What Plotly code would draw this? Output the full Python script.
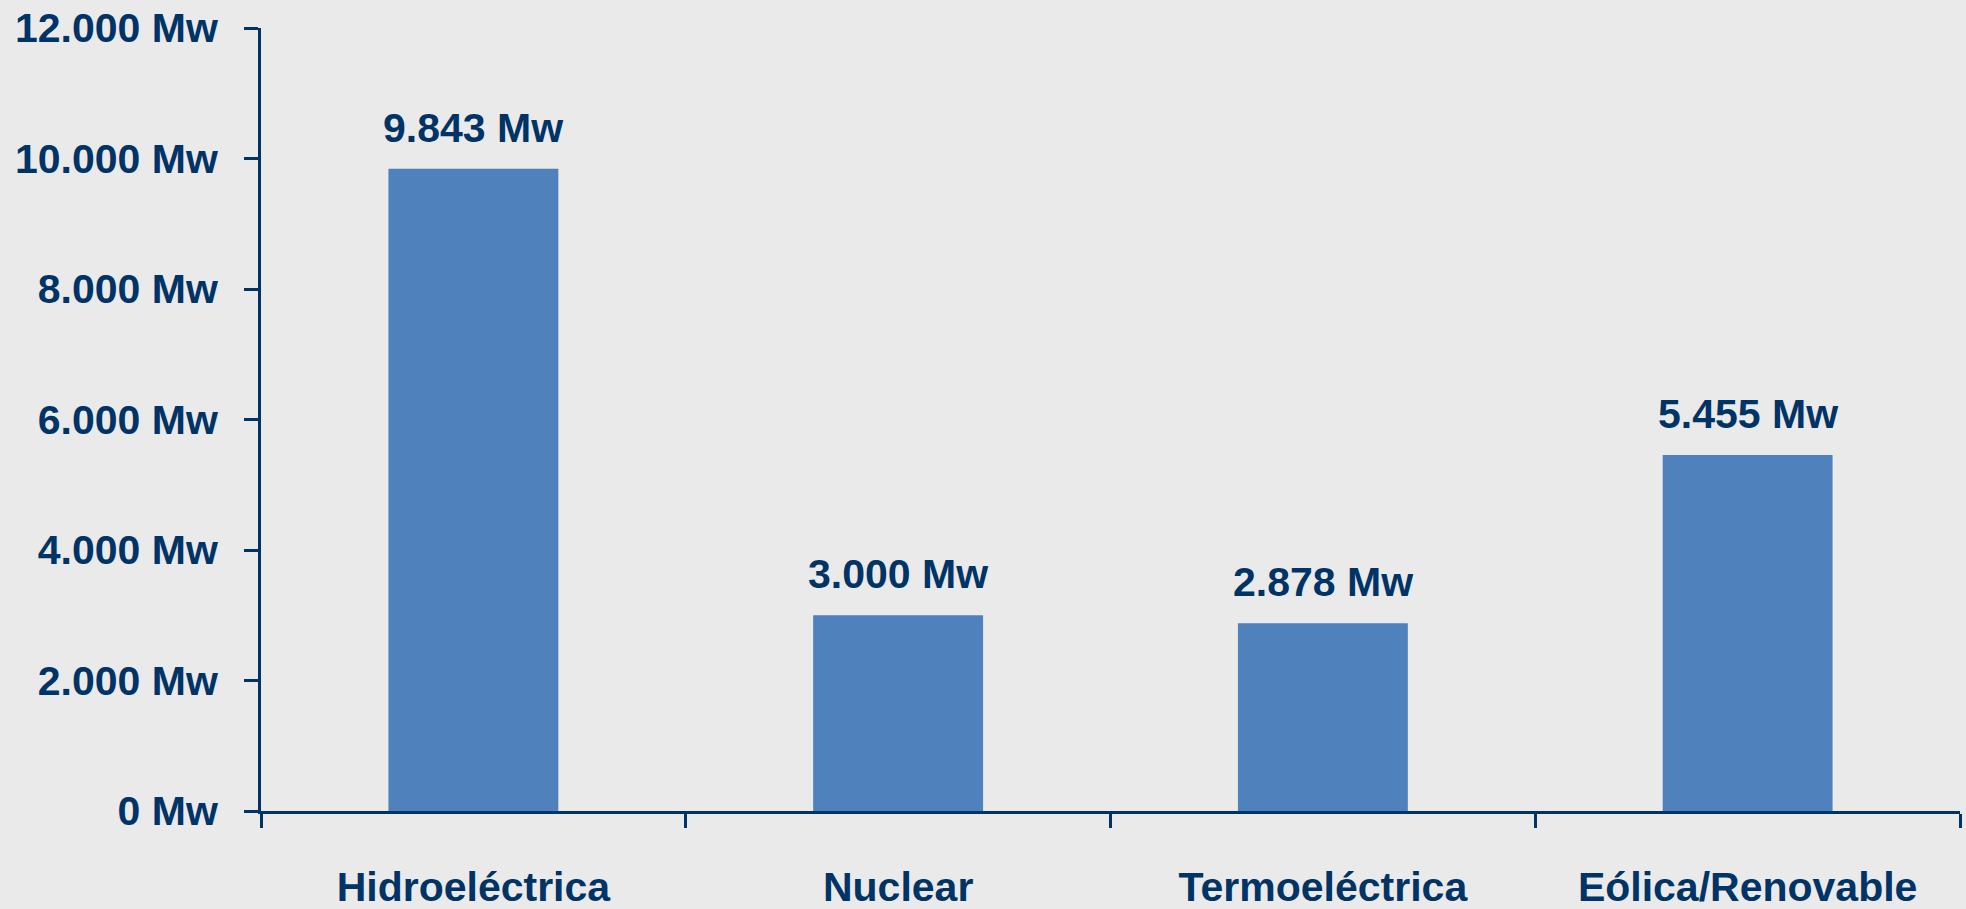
import plotly.graph_objects as go

categories = ["Hidroeléctrica", "Nuclear", "Termoeléctrica", "Eólica/Renovable"]
capacity_mw = [9843, 3000, 2878, 5455]
y_ticks = [0, 2000, 4000, 6000, 8000, 10000, 12000]


def mw(v):
    # Spanish style thousands separator
    return f"{v:,}".replace(",", ".") + " Mw"


NAVY = "#003366"
BG = "#EAEAEA"
FONT = "Liberation Sans, Arial, sans-serif"
SIZE = 41

fig = go.Figure(
    go.Bar(
        x=categories,
        y=capacity_mw,
        marker=dict(color="#4F81BD", line=dict(width=0)),
        hoverinfo="x+y",
    )
)

for cat, val in zip(categories, capacity_mw):
    fig.add_annotation(
        x=cat,
        y=val,
        text=mw(val),
        showarrow=False,
        yanchor="bottom",
        yshift=16,
        font=dict(family=FONT, size=SIZE, color=NAVY, weight="bold"),
    )

fig.update_layout(
    width=1966,
    height=909,
    margin=dict(l=261, r=6, t=28, b=98),
    paper_bgcolor=BG,
    plot_bgcolor=BG,
    bargap=0.6,
    showlegend=False,
    font=dict(family=FONT, color=NAVY, size=SIZE, weight="bold"),
)
fig.update_yaxes(
    range=[0, 12000],
    tickvals=y_ticks,
    ticktext=[mw(v) for v in y_ticks],
    automargin=False,
    showgrid=False,
    zeroline=False,
    showline=True,
    linecolor=NAVY,
    linewidth=3,
    ticks="outside",
    ticklen=14,
    tickwidth=3,
    tickcolor=NAVY,
    ticklabelstandoff=18,
    tickfont=dict(family=FONT, size=SIZE, color=NAVY, weight="bold"),
)
fig.update_xaxes(
    automargin=False,
    showgrid=False,
    showline=True,
    linecolor=NAVY,
    linewidth=3,
    ticks="outside",
    tickson="boundaries",
    ticklen=14,
    tickwidth=3,
    tickcolor=NAVY,
    ticklabelstandoff=38,
    tickfont=dict(family=FONT, size=SIZE, color=NAVY, weight="bold"),
)

# drop the default body margin so the figure fills the window exactly
fig.write_html(
    "out.html",
    config={"displayModeBar": False},
    post_script=f"document.body.style.margin='0';document.body.style.background='{BG}';",
)
